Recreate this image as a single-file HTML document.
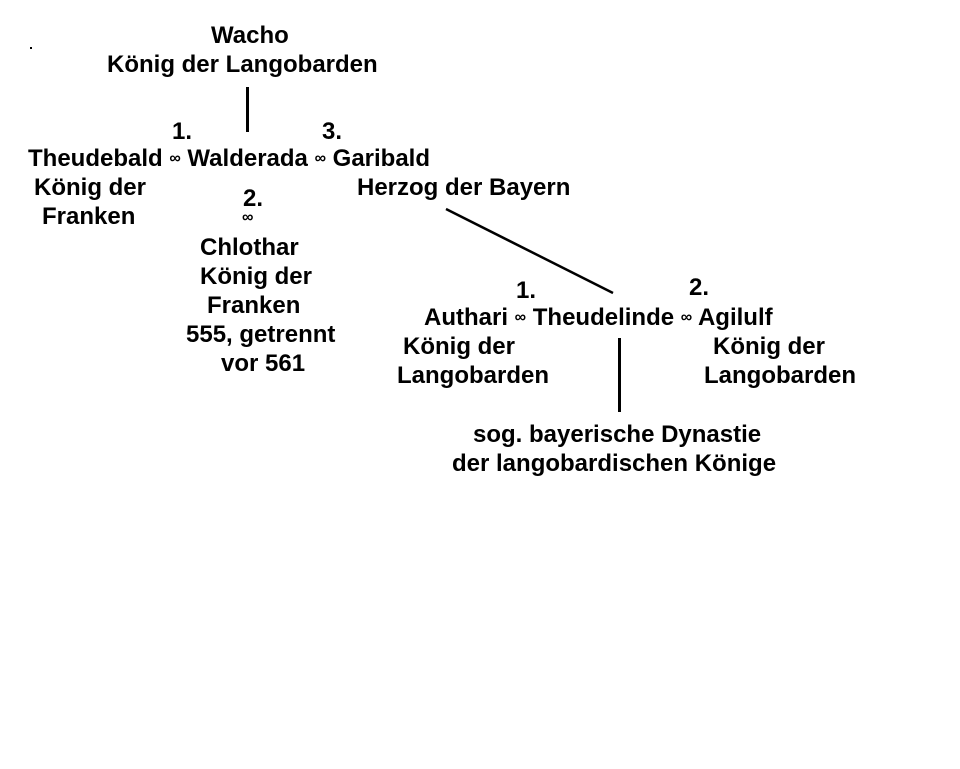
<!DOCTYPE html>
<html><head><meta charset="utf-8"><style>
html,body{margin:0;padding:0;background:#fff;}
body{width:960px;height:769px;position:relative;overflow:hidden;font-family:"Liberation Sans",Arial,sans-serif;font-weight:bold;font-size:24px;color:#000;}
.t{position:absolute;white-space:nowrap;line-height:24px;height:24px;margin-top:1px;}
.i{font-size:16px;position:relative;top:-3px;}
.l{position:absolute;background:#000;}
</style></head><body>
<div class="l" style="left:30px;top:47px;width:2px;height:2px"></div>
<div class="t" style="left:211px;top:23px">Wacho</div>
<div class="t" style="left:107px;top:52px">König der Langobarden</div>
<div class="l" style="left:246px;top:87px;width:3px;height:45px"></div>
<div class="t" style="left:172px;top:119px">1.</div>
<div class="t" style="left:322px;top:119px">3.</div>
<div class="t" style="left:28px;top:146px">Theudebald <span class="i">∞</span> Walderada <span class="i">∞</span> Garibald</div>
<div class="t" style="left:34px;top:175px">König der</div>
<div class="t" style="left:42px;top:204px">Franken</div>
<div class="t" style="left:357px;top:175px">Herzog der Bayern</div>
<div class="t" style="left:243px;top:186px">2.</div>
<div class="t" style="left:242px;top:205px"><span class="i">∞</span></div>
<div class="t" style="left:200px;top:235px">Chlothar</div>
<div class="t" style="left:200px;top:264px">König der</div>
<div class="t" style="left:207px;top:293px">Franken</div>
<div class="t" style="left:186px;top:322px">555, getrennt</div>
<div class="t" style="left:221px;top:351px">vor 561</div>
<svg style="position:absolute;left:0;top:0" width="960" height="769"><line x1="446" y1="209" x2="613" y2="293" stroke="#000" stroke-width="2.5"/></svg>
<div class="t" style="left:516px;top:278px">1.</div>
<div class="t" style="left:689px;top:275px">2.</div>
<div class="t" style="left:424px;top:305px">Authari <span class="i">∞</span> Theudelinde <span class="i">∞</span> Agilulf</div>
<div class="t" style="left:403px;top:334px">König der</div>
<div class="t" style="left:397px;top:363px">Langobarden</div>
<div class="t" style="left:713px;top:334px">König der</div>
<div class="t" style="left:704px;top:363px">Langobarden</div>
<div class="l" style="left:618px;top:338px;width:3px;height:74px"></div>
<div class="t" style="left:473px;top:422px">sog. bayerische Dynastie</div>
<div class="t" style="left:452px;top:451px">der langobardischen Könige</div>
</body></html>
